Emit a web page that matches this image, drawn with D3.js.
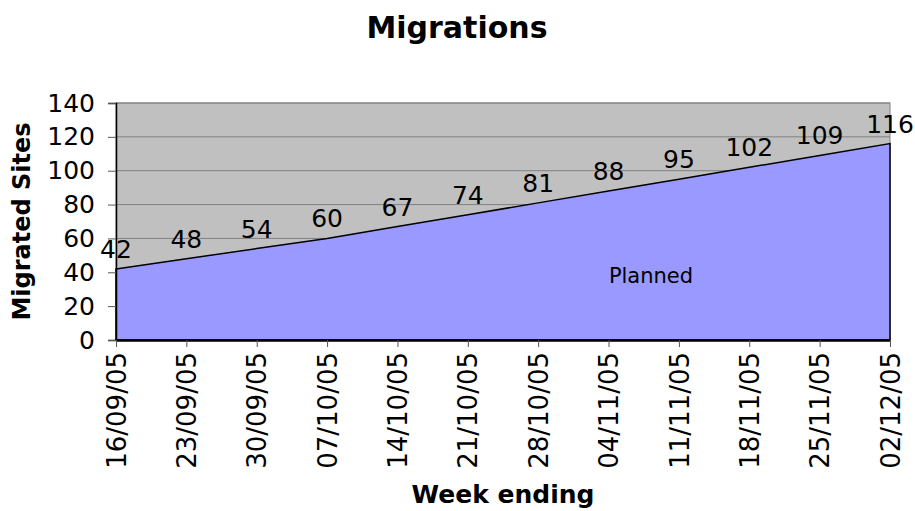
<!DOCTYPE html>
<html>
<head>
<meta charset="utf-8">
<script src="https://cdn.jsdelivr.net/npm/d3@7"></script>
<style>
  body { margin: 0; background: #fff; }
  svg { display: block; font-family: "DejaVu Sans", Verdana, sans-serif; }
</style>
</head>
<body>
<div id="chart"></div>
<script>
// week-ending dates and planned migrated sites
const weeks = ["16/09/05", "23/09/05", "30/09/05", "07/10/05", "14/10/05", "21/10/05",
  "28/10/05", "04/11/05", "11/11/05", "18/11/05", "25/11/05", "02/12/05"];
const planned = [42, 48, 54, 60, 67, 74, 81, 88, 95, 102, 109, 116];
const yTicks = [0, 20, 40, 60, 80, 100, 120, 140];

const width = 915, height = 511;
const margin = { top: 103, right: 25, bottom: 171, left: 116 };
const plotW = width - margin.left - margin.right;
const plotH = height - margin.top - margin.bottom;

const svg = d3.select('#chart').append('svg')
  .attr('width', width)
  .attr('height', height);

const x = d3.scalePoint()
  .domain(weeks)
  .range([0, plotW]);

const y = d3.scaleLinear()
  .domain([0, 140])
  .range([plotH, 0]);

const g = svg.append('g')
  .attr('transform', 'translate(' + margin.left + ',' + margin.top + ')');

// grey plot background
g.append('rect')
  .attr('width', plotW)
  .attr('height', plotH)
  .attr('fill', '#c0c0c0')
  .attr('stroke', '#808080')
  .attr('stroke-width', 1);

// gridlines
g.selectAll('.grid')
  .data(yTicks.slice(1))
  .enter().append('line')
  .attr('x1', 0)
  .attr('x2', plotW)
  .attr('y1', d => y(d))
  .attr('y2', d => y(d))
  .attr('stroke', '#808080')
  .attr('stroke-width', 1);

const series = weeks.map((w, i) => ({ week: w, value: planned[i] }));

const area = d3.area()
  .x(d => x(d.week))
  .y0(y(0))
  .y1(d => y(d.value));

g.append('path')
  .datum(series)
  .attr('d', area)
  .attr('fill', '#9999ff')
  .attr('stroke', '#000')
  .attr('stroke-width', 1.5);

// axes
const yAxis = g.append('g')
  .call(d3.axisLeft(y).tickValues(yTicks).tickSize(8).tickPadding(13));
yAxis.select('.domain').attr('stroke', '#000').attr('stroke-width', 1.5);
yAxis.selectAll('.tick line').attr('stroke', '#555');
yAxis.selectAll('.tick text')
  .attr('font-size', 25)
  .attr('font-family', '"DejaVu Sans", Verdana, sans-serif')
  .attr('fill', '#000');

const xAxis = g.append('g')
  .attr('transform', 'translate(0,' + plotH + ')')
  .call(d3.axisBottom(x).tickSize(7).tickSizeOuter(0));
xAxis.select('.domain').attr('stroke', '#000').attr('stroke-width', 2.5);
xAxis.selectAll('.tick line').attr('stroke', '#555');
xAxis.selectAll('.tick text')
  .attr('font-size', 26)
  .attr('font-family', '"DejaVu Sans", Verdana, sans-serif')
  .attr('fill', '#000')
  .attr('transform', 'rotate(-90)')
  .attr('text-anchor', 'end')
  .attr('x', -12)
  .attr('y', 0)
  .attr('dy', '0.35em');

// data labels
g.selectAll('.label')
  .data(series)
  .enter().append('text')
  .attr('x', d => x(d.week))
  .attr('y', d => y(d.value) - 11)
  .attr('text-anchor', 'middle')
  .attr('font-size', 25)
  .attr('fill', '#000')
  .text(d => d.value);

g.append('text')
  .attr('x', 535)
  .attr('y', 180)
  .attr('text-anchor', 'middle')
  .attr('font-size', 21)
  .attr('fill', '#000')
  .text('Planned');

// titles
svg.append('text')
  .attr('x', 457)
  .attr('y', 38)
  .attr('text-anchor', 'middle')
  .attr('font-size', 30)
  .attr('font-weight', 'bold')
  .text('Migrations');

svg.append('text')
  .attr('x', margin.left + plotW / 2)
  .attr('y', 503)
  .attr('text-anchor', 'middle')
  .attr('font-size', 25)
  .attr('font-weight', 'bold')
  .text('Week ending');

svg.append('text')
  .attr('transform', 'translate(30,' + (margin.top + plotH / 2) + ') rotate(-90)')
  .attr('text-anchor', 'middle')
  .attr('font-size', 24)
  .attr('font-weight', 'bold')
  .text('Migrated Sites');
</script>
</body>
</html>
